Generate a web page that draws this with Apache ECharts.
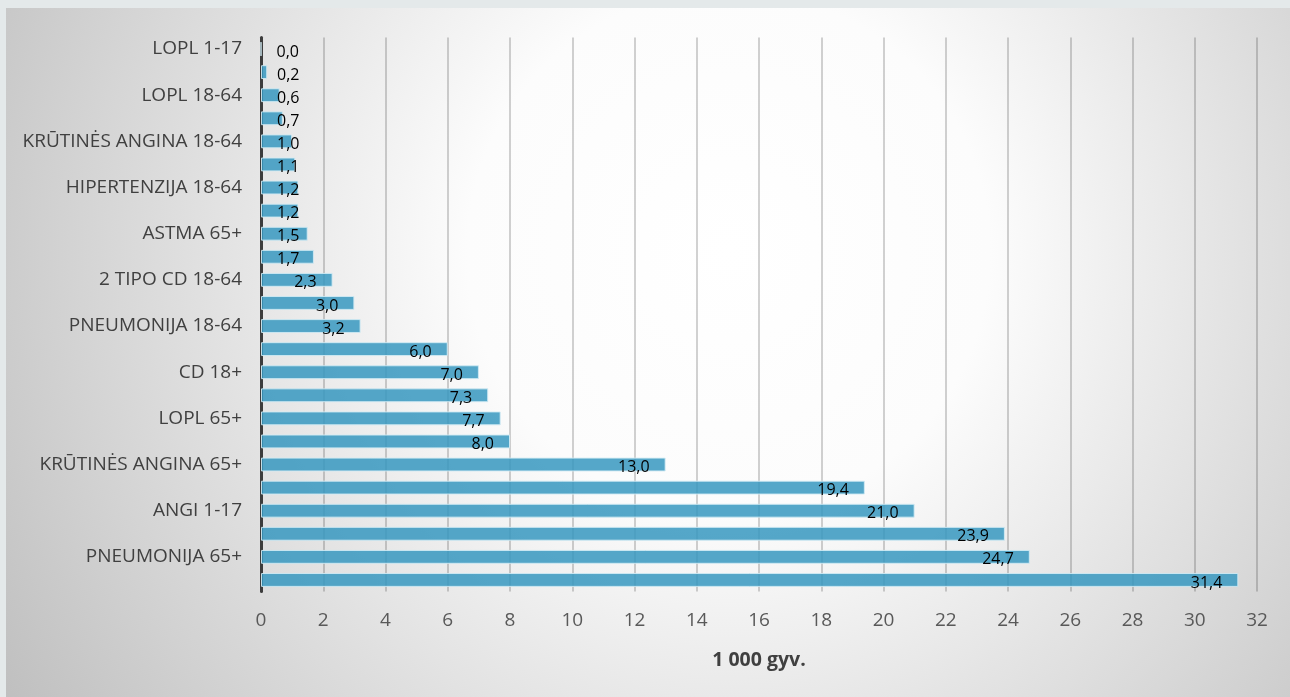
<!DOCTYPE html>
<html>
<head>
<meta charset="utf-8">
<script src="https://cdn.jsdelivr.net/npm/echarts@6/dist/echarts.min.js"></script>
<style>
  html, body { margin: 0; padding: 0; width: 1290px; height: 697px; overflow: hidden; background: #e4e9ea; }
  #chart { position: absolute; left: 6px; top: 8px; width: 1290px; height: 697px; }
</style>
</head>
<body>
<div id="chart"></div>
<script>
// Hospitalisation rates per 1 000 inhabitants, top to bottom
const categories = [
  'LOPL 1-17', '', 'LOPL 18-64', '', 'KRŪTINĖS ANGINA 18-64', '',
  'HIPERTENZIJA 18-64', '', 'ASTMA 65+', '', '2 TIPO CD 18-64', '',
  'PNEUMONIJA 18-64', '', 'CD 18+', '', 'LOPL 65+', '',
  'KRŪTINĖS ANGINA 65+', '', 'ANGI 1-17', '', 'PNEUMONIJA 65+', ''
];
const values = [
  0.0, 0.2, 0.6, 0.7, 1.0, 1.1, 1.2, 1.2, 1.5, 1.7, 2.3, 3.0,
  3.2, 6.0, 7.0, 7.3, 7.7, 8.0, 13.0, 19.4, 21.0, 23.9, 24.7, 31.4
];
const axisTitle = '1 000 gyv.';
const xMin = 0, xMax = 32, xStep = 2;

const fmt = v => v.toFixed(1).replace('.', ',');

const chart = echarts.init(document.getElementById('chart'), null, { renderer: 'canvas' });
chart.setOption({
  backgroundColor: {
    type: 'radial', x: 0.56, y: 0.35, r: 1.25,
    colorStops: [
      { offset: 0, color: '#ffffff' },
      { offset: 0.3, color: '#fcfcfc' },
      { offset: 1, color: '#bdbdbd' }
    ]
  },
  animation: false,
  grid: { left: 255, right: 39, top: 29.5, height: 554, containLabel: false },
  xAxis: {
    type: 'value', min: xMin, max: xMax, interval: xStep,
    name: axisTitle, nameLocation: 'middle', nameGap: 59,
    nameTextStyle: { fontFamily: 'Open Sans', fontSize: 19.5, fontWeight: 'bold', color: '#404040' },
    axisLine: { show: false }, axisTick: { show: false },
    axisLabel: { fontFamily: 'Open Sans', fontSize: 19, color: '#595959', margin: 20 },
    splitLine: { show: true, lineStyle: { color: 'rgba(0,0,0,0.24)', width: 1.5 } }
  },
  yAxis: {
    type: 'category', data: categories, inverse: true,
    axisLine: { show: true, lineStyle: { color: '#3c3c3c', width: 3 } },
    axisTick: { show: false },
    axisLabel: { interval: 0, fontFamily: 'Open Sans', fontSize: 19, color: '#404040', margin: 19 },
    splitLine: { show: false }
  },
  series: [{
    type: 'bar', data: values, barCategoryGap: '40%',
    itemStyle: { color: 'rgba(55,152,192,0.85)', borderColor: 'rgba(210,235,244,0.9)', borderWidth: 1 },
    label: {
      show: true, position: 'insideRight',
      formatter: p => fmt(p.value),
      fontFamily: 'Open Sans', fontSize: 16, color: '#000000'
    },
    labelLayout: p => {
      const r = p.rect, w = p.labelRect.width;
      const end = r.x + r.width;
      return {
        x: Math.max(end - 16, r.x + 16 + w),
        y: r.y + r.height / 2 + 3,
        align: 'right', verticalAlign: 'middle'
      };
    }
  }]
});
</script>
</body>
</html>
